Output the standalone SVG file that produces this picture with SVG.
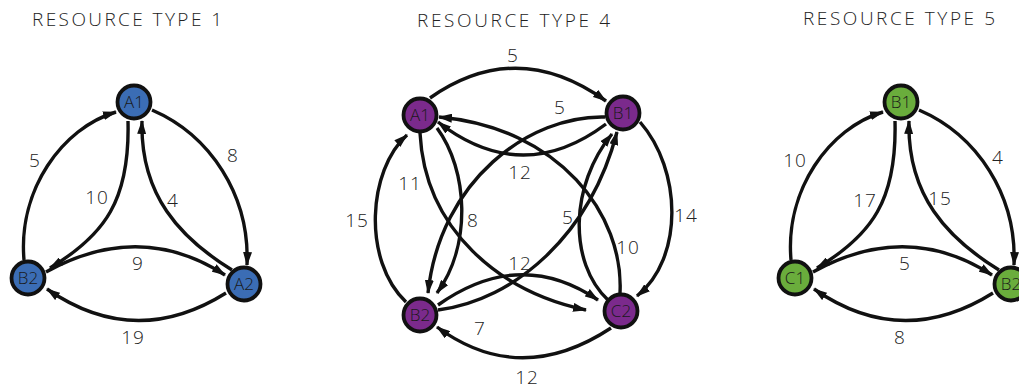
<svg xmlns="http://www.w3.org/2000/svg" width="1019" height="389" viewBox="0 0 1019 389">
  <style>
    .title { font-family: "Open Sans", "Liberation Sans", sans-serif; font-weight: 300; font-size: 19px; fill: #222; }
    .lbl { font-family: "Open Sans", "Liberation Sans", sans-serif; font-weight: 300; font-size: 19px; letter-spacing: 1px; fill: #222; text-anchor: middle; }
    .nlbl { font-family: "Open Sans", "Liberation Sans", sans-serif; font-weight: 300; font-size: 17px; fill: #1a1a1a; text-anchor: middle; }
    .node { stroke: #111; stroke-width: 3.8; }
    .blue { fill: #3b6db5; }
    .purple { fill: #7b2a8c; }
    .green { fill: #6aad3c; }
    .edge { fill: none; stroke: #111; stroke-width: 3.4; marker-end: url(#arr); }
  </style>
  <defs>
    <marker id="arr" viewBox="0 0 14 9" refX="13" refY="4.5" markerWidth="14" markerHeight="9" markerUnits="userSpaceOnUse" orient="auto">
      <path d="M0,0 L14,4.5 L0,9 Z" fill="#111"/>
    </marker>
  </defs>

  <rect width="1019" height="389" fill="#ffffff"/>

  <!-- Titles -->
  <text class="title" x="32" y="26" textLength="190" lengthAdjust="spacing">RESOURCE TYPE 1</text>
  <text class="title" x="417" y="27" textLength="193" lengthAdjust="spacing">RESOURCE TYPE 4</text>
  <text class="title" x="803" y="25" textLength="192" lengthAdjust="spacing">RESOURCE TYPE 5</text>

  <!-- Resource type 1 -->
  <g id="type1-edges">
    <path class="edge" d="M24,260 C18,190 62,128 116,112"/>
    <path class="edge" d="M152,110 C210,135 250,195 247,265"/>
    <path class="edge" d="M128,121 C130,200 105,235 50,268"/>
    <path class="edge" d="M232,270 C180,238 140,195 142,121"/>
    <path class="edge" d="M46,272 Q140,220 225,275"/>
    <path class="edge" d="M226,293 Q135,350 47,289"/>
  </g>
  <g id="type1-labels">
    <text class="lbl" x="35" y="167">5</text>
    <text class="lbl" x="233" y="162">8</text>
    <text class="lbl" x="97" y="204">10</text>
    <text class="lbl" x="173" y="207">4</text>
    <text class="lbl" x="138" y="270">9</text>
    <text class="lbl" x="133" y="344">19</text>
  </g>
  <g id="t1-A1"><circle class="node blue" cx="134" cy="102" r="16.5"/><text class="nlbl" x="134" y="108">A1</text></g>
  <g id="t1-B2"><circle class="node blue" cx="28" cy="278" r="16.5"/><text class="nlbl" x="28" y="284">B2</text></g>
  <g id="t1-A2"><circle class="node blue" cx="244" cy="284" r="16.5"/><text class="nlbl" x="244" y="290">A2</text></g>

  <!-- Resource type 4 -->
  <g id="type4-edges">
    <path class="edge" d="M430,98 Q517,37 606,101"/>
    <path class="edge" d="M606,124 Q522,187 438,122"/>
    <path class="edge" d="M605,117 C530,115 440,180 428,293"/>
    <path class="edge" d="M438,310 C515,300 590,235 617,132"/>
    <path class="edge" d="M437,128 C468,170 472,245 437,293"/>
    <path class="edge" d="M406,302 C362,260 368,170 407,135"/>
    <path class="edge" d="M420,133 C425,230 500,292 586,310"/>
    <path class="edge" d="M620,293 C624,215 560,128 439,117"/>
    <path class="edge" d="M608,300 C568,262 570,185 612,134"/>
    <path class="edge" d="M640,122 C682,170 684,258 637,296"/>
    <path class="edge" d="M438,305 Q520,247 598,300"/>
    <path class="edge" d="M611,328 Q520,388 437,327"/>
  </g>
  <g id="type4-labels">
    <text class="lbl" x="513" y="62">5</text>
    <text class="lbl" x="560" y="114">5</text>
    <text class="lbl" x="520" y="179">12</text>
    <text class="lbl" x="410" y="190">11</text>
    <text class="lbl" x="473" y="227">8</text>
    <text class="lbl" x="357" y="227">15</text>
    <text class="lbl" x="568" y="224">5</text>
    <text class="lbl" x="628" y="254">10</text>
    <text class="lbl" x="686" y="222">14</text>
    <text class="lbl" x="520" y="270">12</text>
    <text class="lbl" x="480" y="335">7</text>
    <text class="lbl" x="527" y="384">12</text>
  </g>
  <g id="t4-A1"><circle class="node purple" cx="420" cy="115" r="16.5"/><text class="nlbl" x="420" y="121">A1</text></g>
  <g id="t4-B1"><circle class="node purple" cx="623" cy="113" r="16.5"/><text class="nlbl" x="623" y="119">B1</text></g>
  <g id="t4-B2"><circle class="node purple" cx="420" cy="315" r="16.5"/><text class="nlbl" x="420" y="321">B2</text></g>
  <g id="t4-C2"><circle class="node purple" cx="621" cy="311" r="16.5"/><text class="nlbl" x="621" y="317">C2</text></g>

  <!-- Resource type 5 (same layout as type 1, shifted right) -->
  <g transform="translate(767 0)">
    <g id="type5-edges">
      <path class="edge" d="M24,260 C18,190 62,128 116,112"/>
      <path class="edge" d="M152,110 C210,135 250,195 247,265"/>
      <path class="edge" d="M128,121 C130,200 105,235 50,268"/>
      <path class="edge" d="M232,270 C180,238 140,195 142,121"/>
      <path class="edge" d="M46,272 Q140,220 225,275"/>
      <path class="edge" d="M226,293 Q135,350 47,289"/>
    </g>
    <g id="type5-labels">
      <text class="lbl" x="28" y="167">10</text>
      <text class="lbl" x="231" y="164">4</text>
      <text class="lbl" x="98" y="207">17</text>
      <text class="lbl" x="173" y="205">15</text>
      <text class="lbl" x="138" y="270">5</text>
      <text class="lbl" x="133" y="344">8</text>
    </g>
    <g id="t5-B1"><circle class="node green" cx="134" cy="102" r="16.5"/><text class="nlbl" x="134" y="108">B1</text></g>
    <g id="t5-C1"><circle class="node green" cx="28" cy="278" r="16.5"/><text class="nlbl" x="28" y="284">C1</text></g>
    <g id="t5-B2"><circle class="node green" cx="244" cy="284" r="16.5"/><text class="nlbl" x="244" y="290">B2</text></g>
  </g>
</svg>
